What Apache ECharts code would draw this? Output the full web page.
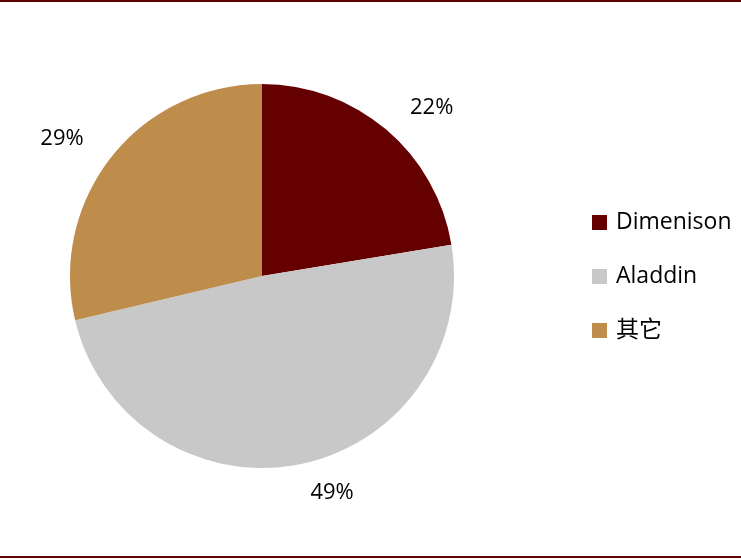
<!DOCTYPE html>
<html>
<head>
<meta charset="utf-8">
<script src="https://cdn.jsdelivr.net/npm/echarts@6/dist/echarts.min.js"></script>
<style>
html,body{margin:0;padding:0;background:#fff;}
#chart{width:741px;height:560px;}
</style>
</head>
<body>
<div id="chart"></div>
<script>
const categories = ['Dimenison', 'Aladdin', '其它'];
const values = [22.4, 48.9, 28.7];
const colors = ['#650000', '#C8C8C8', '#BE8C4B'];

const chart = echarts.init(document.getElementById('chart'), null, {renderer: 'canvas'});
const font = '"Open Sans", "Noto Sans CJK SC", sans-serif';

chart.setOption({
  animation: false,
  backgroundColor: '#ffffff',
  graphic: [
    {type: 'rect', left: 0, top: 0, shape: {width: 741, height: 2}, style: {fill: '#600000'}},
    {type: 'rect', left: 0, top: 556, shape: {width: 741, height: 2}, style: {fill: '#600000'}}
  ],
  legend: {
    orient: 'vertical',
    left: 592,
    top: 211,
    padding: 0,
    itemWidth: 15,
    itemHeight: 15,
    itemGap: 31,
    icon: 'rect',
    data: categories,
    textStyle: {fontFamily: font, fontSize: 23, color: '#000', lineHeight: 23, padding: [0, 0, 0, 4]}
  },
  series: [{
    type: 'pie',
    center: [262, 276],
    radius: 192,
    startAngle: 90,
    clockwise: true,
    avoidLabelOverlap: false,
    data: categories.map((c, i) => ({name: c, value: values[i], itemStyle: {color: colors[i]}})),
    label: {
      show: true,
      position: 'outside',
      formatter: p => Math.round(p.percent) + '%',
      fontFamily: font,
      fontSize: 22,
      color: '#000'
    },
    labelLine: {show: false, length: 29, length2: 0},
    emphasis: {disabled: true}
  }]
});
</script>
</body>
</html>
